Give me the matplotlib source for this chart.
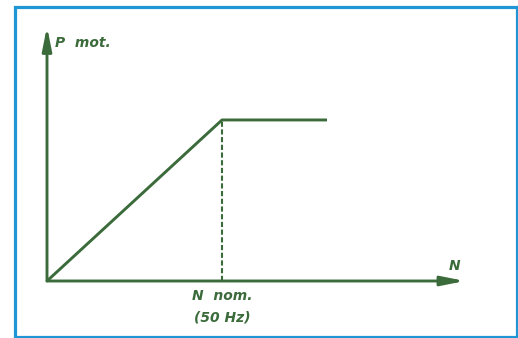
import matplotlib
matplotlib.use('Agg')
import matplotlib.pyplot as plt
from matplotlib.patches import Rectangle

# motor power vs speed: linear up to nominal speed, then constant
speed_hz = [0, 50, 80]
power = [0, 1, 1]
nominal_hz = 50
x_label = 'N'
y_label = 'P  mot.'
nominal_label = 'N  nom.\n(50 Hz)'

GREEN = '#3b6b3b'
BLUE = '#2196d6'

fig = plt.figure(figsize=(5.18, 3.38), dpi=100)
ax = fig.add_axes([0, 0, 1, 1])
ax.set_xlim(-13.43, 134.57)
ax.set_ylim(-0.354, 1.745)
ax.axis('off')

# frame
fig.patches.append(Rectangle((15 / 518, 1 / 338), 502 / 518, 330 / 338,
                             transform=fig.transFigure, fill=False,
                             edgecolor=BLUE, linewidth=2.3))

# axes arrows
arrow = dict(arrowstyle='-|>,head_length=1.4,head_width=0.28', color=GREEN,
             lw=2.1, shrinkA=0, shrinkB=0)
ax.annotate('', xy=(119.4, 0), xytext=(0, 0), arrowprops=arrow)
ax.annotate('', xy=(0, 1.58), xytext=(0, 0), arrowprops=arrow)

ax.plot(speed_hz, power, color=GREEN, lw=2.1, solid_capstyle='butt')
ax.plot([nominal_hz, nominal_hz], [0, power[1]], color=GREEN, lw=1.5,
        linestyle=(0, (2.5, 1.2)))

font = dict(color=GREEN, fontsize=10, fontweight='bold', fontstyle='italic')
ax.text(2.3, 1.48, y_label, ha='left', va='center', **font)
ax.text(116.5, 0.095, x_label, ha='center', va='center', **font)
ax.text(nominal_hz, -0.16, nominal_label, ha='center', va='center',
        linespacing=1.7, **font)

fig.savefig('out.png', dpi=100)
